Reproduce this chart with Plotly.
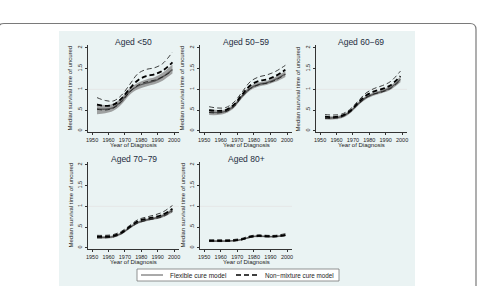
import plotly.graph_objects as go

W, H = 478, 286

years = [1953, 1958, 1963, 1968, 1973, 1978, 1983, 1988, 1993, 1999]

titles = ["Aged <50", "Aged 50\u221259", "Aged 60\u221269", "Aged 70\u221279", "Aged 80+"]

# Flexible cure model: centre, lower, upper
flex_mid = [
    [0.53, 0.52, 0.56, 0.72, 0.95, 1.08, 1.15, 1.20, 1.30, 1.48],
    [0.45, 0.44, 0.47, 0.60, 0.84, 1.03, 1.12, 1.16, 1.24, 1.37],
    [0.31, 0.31, 0.34, 0.45, 0.64, 0.80, 0.89, 0.95, 1.04, 1.24],
    [0.25, 0.25, 0.27, 0.35, 0.49, 0.61, 0.67, 0.71, 0.77, 0.90],
    [0.16, 0.16, 0.16, 0.17, 0.20, 0.26, 0.28, 0.27, 0.27, 0.30],
]
flex_lo = [
    [0.40, 0.42, 0.48, 0.64, 0.87, 1.00, 1.07, 1.12, 1.21, 1.38],
    [0.38, 0.38, 0.42, 0.55, 0.79, 0.98, 1.07, 1.11, 1.18, 1.30],
    [0.27, 0.27, 0.30, 0.41, 0.60, 0.76, 0.85, 0.91, 0.99, 1.17],
    [0.22, 0.22, 0.24, 0.32, 0.46, 0.58, 0.64, 0.68, 0.73, 0.85],
    [0.14, 0.14, 0.14, 0.15, 0.18, 0.24, 0.26, 0.25, 0.25, 0.28],
]
flex_hi = [
    [0.66, 0.62, 0.65, 0.80, 1.03, 1.16, 1.24, 1.29, 1.40, 1.60],
    [0.52, 0.50, 0.52, 0.65, 0.89, 1.08, 1.17, 1.21, 1.30, 1.44],
    [0.35, 0.35, 0.38, 0.49, 0.68, 0.84, 0.93, 0.99, 1.09, 1.31],
    [0.28, 0.28, 0.30, 0.38, 0.52, 0.64, 0.70, 0.74, 0.81, 0.95],
    [0.18, 0.18, 0.18, 0.19, 0.22, 0.28, 0.30, 0.29, 0.29, 0.32],
]
# Non-mixture cure model: centre, lower, upper
nm_mid = [
    [0.63, 0.60, 0.63, 0.78, 1.02, 1.22, 1.32, 1.36, 1.45, 1.65],
    [0.50, 0.48, 0.50, 0.63, 0.88, 1.10, 1.20, 1.24, 1.32, 1.47],
    [0.34, 0.33, 0.36, 0.47, 0.67, 0.85, 0.95, 1.01, 1.10, 1.32],
    [0.27, 0.27, 0.29, 0.37, 0.51, 0.64, 0.70, 0.74, 0.80, 0.94],
    [0.17, 0.17, 0.17, 0.18, 0.21, 0.27, 0.29, 0.28, 0.28, 0.31],
]
nm_lo = [
    [0.52, 0.50, 0.55, 0.70, 0.94, 1.10, 1.18, 1.22, 1.30, 1.45],
    [0.44, 0.43, 0.46, 0.58, 0.83, 1.02, 1.11, 1.15, 1.22, 1.36],
    [0.30, 0.30, 0.33, 0.44, 0.63, 0.80, 0.89, 0.94, 1.02, 1.22],
    [0.24, 0.24, 0.26, 0.34, 0.48, 0.60, 0.66, 0.70, 0.75, 0.88],
    [0.15, 0.15, 0.15, 0.16, 0.19, 0.25, 0.27, 0.26, 0.26, 0.29],
]
nm_hi = [
    [0.80, 0.73, 0.72, 0.86, 1.12, 1.38, 1.48, 1.52, 1.62, 1.90],
    [0.58, 0.55, 0.56, 0.69, 0.94, 1.19, 1.30, 1.35, 1.43, 1.58],
    [0.39, 0.38, 0.40, 0.51, 0.71, 0.91, 1.02, 1.09, 1.19, 1.44],
    [0.30, 0.30, 0.32, 0.40, 0.54, 0.68, 0.74, 0.79, 0.86, 1.02],
    [0.19, 0.19, 0.19, 0.20, 0.23, 0.29, 0.31, 0.30, 0.30, 0.34],
]

y_tickvals = [0, 0.5, 1, 1.5, 2]
y_ticktext = ["0", ".5", "1", "1.5", "2"]
x_tickvals = [1950, 1960, 1970, 1980, 1990, 2000]
x_title = "Year of Diagnosis"
y_title = "Median survival time of uncured"
legend_names = ["Flexible cure model", "Non\u2212mixture cure model"]

# layout geometry (pixels)
col_x = [(88, 179), (200, 292), (316, 407)]
row_y = [(45, 132), (162, 249)]
cells = [(0, 0), (0, 1), (0, 2), (1, 0), (1, 1)]

FONT = "Liberation Sans, Arial, sans-serif"
TXT = "#222222"
FLEX_LINE = "#555555"
DASH = "5px,3px"

fig = go.Figure()
layout = dict(
    width=W, height=H, margin=dict(l=0, r=0, t=0, b=0, autoexpand=False),
    paper_bgcolor="white", plot_bgcolor="white", showlegend=False,
    font=dict(family=FONT, color=TXT), template="none",
)
annotations = []
shapes = []


def px(x):
    return x / W


def py(y):
    return 1 - y / H


# outer rounded frame
r = 6
x0, x1, y0, y1 = -2, 476, 23.5, 300
shapes.append(dict(type="path", xref="paper", yref="paper",
                   path=f"M {px(x0)} {py(y1)} L {px(x0)} {py(y0+r)} Q {px(x0)} {py(y0)} {px(x0+r)} {py(y0)} "
                        f"L {px(x1-r)} {py(y0)} Q {px(x1)} {py(y0)} {px(x1)} {py(y0+r)} L {px(x1)} {py(y1)}",
                   line=dict(color="#7a7a7a", width=1.2), layer="below"))
# graph background panel
shapes.append(dict(type="rect", xref="paper", yref="paper",
                   x0=px(59), x1=px(415), y0=-0.05, y1=py(31),
                   fillcolor="#eaf3f3", line=dict(width=0), layer="below"))

for i, (row, col) in enumerate(cells):
    n = i + 1
    xa = "x" if n == 1 else f"x{n}"
    ya = "y" if n == 1 else f"y{n}"
    xd = [px(col_x[col][0]), px(col_x[col][1])]
    yd = [py(row_y[row][1]), py(row_y[row][0])]
    fig.add_trace(go.Scatter(x=years, y=flex_lo[i], xaxis=xa, yaxis=ya, mode="lines",
                             line=dict(width=0, shape="spline", color="#9a9a9a"),
                             hoverinfo="skip"))
    fig.add_trace(go.Scatter(x=years, y=flex_hi[i], xaxis=xa, yaxis=ya, mode="lines",
                             line=dict(width=0, shape="spline", color="#9a9a9a"),
                             fill="tonexty", fillcolor="rgba(140,140,140,0.8)",
                             hoverinfo="skip"))
    fig.add_trace(go.Scatter(x=years, y=flex_mid[i], xaxis=xa, yaxis=ya, mode="lines",
                             line=dict(width=1.3, shape="spline", color=FLEX_LINE),
                             name=legend_names[0]))
    for arr in (nm_lo[i], nm_hi[i]):
        fig.add_trace(go.Scatter(x=years, y=arr, xaxis=xa, yaxis=ya, mode="lines",
                                 line=dict(width=0.8, shape="spline", color="#111111", dash=DASH),
                                 hoverinfo="skip"))
    fig.add_trace(go.Scatter(x=years, y=nm_mid[i], xaxis=xa, yaxis=ya, mode="lines",
                             line=dict(width=1.8, shape="spline", color="#000000", dash=DASH),
                             name=legend_names[1]))

    xkey = "xaxis" if n == 1 else f"xaxis{n}"
    ykey = "yaxis" if n == 1 else f"yaxis{n}"
    layout[xkey] = dict(domain=xd, anchor=ya, range=[1947.5, 2003], tickvals=x_tickvals,
                        showgrid=False, zeroline=False, showline=True, linecolor="#333333",
                        linewidth=0.8, ticks="outside", ticklen=2.5, tickwidth=0.6,
                        tickcolor="#333333", tickfont=dict(size=5.5, color=TXT),
                        automargin=False)
    layout[ykey] = dict(domain=yd, anchor=xa, range=[-0.03, 2.07], tickvals=y_tickvals,
                        ticktext=y_ticktext, tickangle=-90,
                        showgrid=False, zeroline=False, showline=True, linecolor="#333333",
                        linewidth=0.8, ticks="outside", ticklen=2.5, tickwidth=0.6,
                        tickcolor="#333333", tickfont=dict(size=5.5, color=TXT),
                        automargin=False)
    # faint reference gridline at y=1
    shapes.append(dict(type="line", xref=f"{xa} domain", yref=ya, x0=0, x1=1, y0=1, y1=1,
                       line=dict(color="#e3e3e3", width=0.8), layer="below"))
    annotations.append(dict(text=titles[i], xref="paper", yref="paper",
                            x=(xd[0] + xd[1]) / 2, y=yd[1] + 3.5 / H, xanchor="center", yanchor="middle",
                            showarrow=False, font=dict(size=8.5, color="#1e2d3f", family=FONT)))
    annotations.append(dict(text=x_title, xref="paper", yref="paper",
                            x=(xd[0] + xd[1]) / 2, y=yd[0] - 12.5 / H, xanchor="center", yanchor="middle",
                            showarrow=False, font=dict(size=6, color=TXT, family=FONT)))
    annotations.append(dict(text=y_title, xref="paper", yref="paper", textangle=-90,
                            x=xd[0] - 18 / W, y=(yd[0] + yd[1]) / 2, xanchor="center", yanchor="middle",
                            showarrow=False, font=dict(size=6, color=TXT, family=FONT)))

# legend (drawn box with line samples and labels)
lx0, lx1, ly0, ly1 = 137, 339, 269, 281
lyc = (ly0 + ly1) / 2
shapes.append(dict(type="rect", xref="paper", yref="paper", x0=px(lx0), x1=px(lx1), y0=py(ly1), y1=py(ly0),
                   fillcolor="white", line=dict(color="#777777", width=0.8)))
shapes.append(dict(type="line", xref="paper", yref="paper", x0=px(141), x1=px(163), y0=py(lyc), y1=py(lyc),
                   line=dict(color=FLEX_LINE, width=1.0)))
shapes.append(dict(type="line", xref="paper", yref="paper", x0=px(236), x1=px(260), y0=py(lyc), y1=py(lyc),
                   line=dict(color="#000000", width=1.3, dash=DASH)))
annotations.append(dict(text=legend_names[0], xref="paper", yref="paper", x=px(168), y=py(lyc),
                        xanchor="left", yanchor="middle", showarrow=False,
                        font=dict(size=6.5, color=TXT, family=FONT)))
annotations.append(dict(text=legend_names[1], xref="paper", yref="paper", x=px(263), y=py(lyc),
                        xanchor="left", yanchor="middle", showarrow=False,
                        font=dict(size=6.3, color=TXT, family=FONT)))

layout["annotations"] = annotations
layout["shapes"] = shapes
fig.update_layout(**layout)
fig.write_html("out.html")
